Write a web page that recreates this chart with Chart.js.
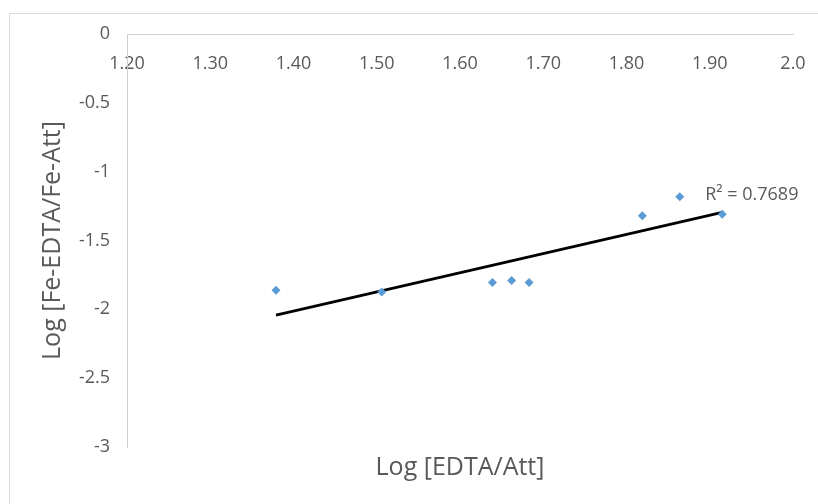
<!DOCTYPE html>
<html>
<head>
<meta charset="utf-8">
<script src="https://cdn.jsdelivr.net/npm/chart.js@4/dist/chart.umd.min.js"></script>
<style>
  html, body { margin: 0; padding: 0; background: #fff; overflow: hidden; }
  #wrap { position: relative; width: 818px; height: 504px; }
  #frame { position: absolute; left: 9px; top: 13px; width: 900px; height: 600px; border: 1px solid #d9d9d9; }
  #chart { position: absolute; left: 0; top: 0; }
</style>
</head>
<body>
<div id="wrap">
  <div id="frame"></div>
  <canvas id="chart" width="818" height="504"></canvas>
</div>
<script>
// Measured points: log of the ligand ratio vs log of the complex ratio
const logEdtaAtt = [1.379, 1.506, 1.639, 1.662, 1.683, 1.819, 1.864, 1.915];
const logFeRatio = [-1.861, -1.874, -1.805, -1.791, -1.805, -1.321, -1.182, -1.309];

const xTickLabels = ['1.20', '1.30', '1.40', '1.50', '1.60', '1.70', '1.80', '1.90', '2.0'];
const rSquaredLabel = 'R\u00b2 = 0.7689';

const textColor = '#595959';
const axisColor = '#d0d0d0';
const pointColor = '#5B9BD5';
const fontFamily = "'Open Sans', 'Liberation Sans', sans-serif";

// Least-squares line through the measured points
function linearFit(xs, ys) {
    const n = xs.length;
    const mx = xs.reduce((a, b) => a + b, 0) / n;
    const my = ys.reduce((a, b) => a + b, 0) / n;
    let sxy = 0, sxx = 0;
    for (let i = 0; i < n; i++) {
        sxy += (xs[i] - mx) * (ys[i] - my);
        sxx += (xs[i] - mx) * (xs[i] - mx);
    }
    const slope = sxy / sxx;
    return { slope, intercept: my - slope * mx };
}

const fit = linearFit(logEdtaAtt, logFeRatio);
const xMin = Math.min(...logEdtaAtt);
const xMax = Math.max(...logEdtaAtt);
const trendPoints = [xMin, xMax].map(x => ({ x: x, y: fit.intercept + fit.slope * x }));

// Writes the R² text just above the right end of the trend line
const rSquaredPlugin = {
    id: 'rSquared',
    afterDatasetsDraw(chart) {
        const meta = chart.getDatasetMeta(1);
        const end = meta.data[meta.data.length - 1];
        const ctx = chart.ctx;
        ctx.save();
        ctx.font = '18px ' + fontFamily;
        ctx.fillStyle = textColor;
        ctx.textAlign = 'left';
        ctx.textBaseline = 'middle';
        ctx.fillText(rSquaredLabel, end.x - 17, end.y - 18);
        ctx.restore();
    }
};

new Chart(document.getElementById('chart'), {
    type: 'scatter',
    data: {
        datasets: [{
            label: 'Log [Fe-EDTA/Fe-Att]',
            data: logEdtaAtt.map((x, i) => ({ x: x, y: logFeRatio[i] })),
            pointStyle: 'rectRot',
            pointRadius: 4.5,
            borderWidth: 0,
            backgroundColor: pointColor,
            borderColor: pointColor
        }, {
            label: 'Linear',
            data: trendPoints,
            showLine: true,
            pointRadius: 0,
            borderColor: '#000000',
            borderWidth: 2.75,
            fill: false
        }]
    },
    options: {
        responsive: false,
        animation: false,
        layout: {
            padding: { left: 34, top: 34, right: 25, bottom: 21 }
        },
        plugins: {
            legend: { display: false },
            tooltip: { enabled: false }
        },
        scales: {
            x: {
                type: 'linear',
                position: { y: 0 },
                min: 1.2,
                max: 2.0,
                grid: { display: false, drawTicks: false },
                border: { display: true, color: axisColor, width: 1 },
                ticks: {
                    stepSize: 0.1,
                    padding: 19,
                    color: textColor,
                    font: { family: fontFamily, size: 18 },
                    maxRotation: 0,
                    autoSkip: false,
                    callback: (value, index) => xTickLabels[index]
                },
                // labels hang below the line, so the side overhang only needs half a label
                afterFit: scale => {
                    scale.paddingLeft = 14;
                    scale.paddingRight = 14;
                }
            },
            xTitle: {
                type: 'linear',
                position: 'bottom',
                grid: { display: false, drawTicks: false },
                border: { display: false },
                ticks: { display: false },
                title: {
                    display: true,
                    text: 'Log [EDTA/Att]',
                    color: textColor,
                    font: { family: fontFamily, size: 25 },
                    padding: { top: 6, bottom: 0 }
                }
            },
            y: {
                min: -3,
                max: 0,
                grid: { display: false, drawTicks: false },
                border: { display: true, color: axisColor, width: 1 },
                ticks: {
                    stepSize: 0.5,
                    padding: 17,
                    color: textColor,
                    font: { family: fontFamily, size: 18 },
                    callback: value => String(value)
                },
                title: {
                    display: true,
                    text: 'Log [Fe-EDTA/Fe-Att]',
                    color: textColor,
                    font: { family: fontFamily, size: 25 },
                    padding: { top: 4, bottom: 4 }
                },
                afterFit: scale => { scale.width = 93; }
            }
        }
    },
    plugins: [rSquaredPlugin]
});
</script>
</body>
</html>
